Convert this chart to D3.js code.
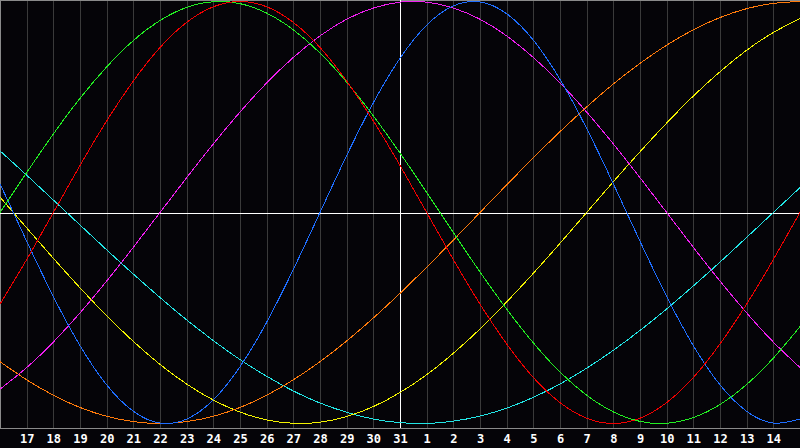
<!DOCTYPE html>
<html>
<head>
<meta charset="utf-8">
<script src="https://cdn.jsdelivr.net/npm/d3@7"></script>
<style>
    body { margin: 0; background: #050408; }
    svg { display: block; }
    .day-axis text { fill: #ffffff; font-family: "DejaVu Sans Mono", monospace; font-weight: bold; font-size: 12px; }
    .curve { fill: none; stroke-width: 1; shape-rendering: crispEdges; }
</style>
</head>
<body>
<div id="chart"></div>
<script>
// days shown, one per grid column (16th .. 15th of next month)
const days = [16, 17, 18, 19, 20, 21, 22, 23, 24, 25, 26, 27, 28, 29, 30, 31,
              1, 2, 3, 4, 5, 6, 7, 8, 9, 10, 11, 12, 13, 14, 15];
const todayIndex = 15;

// cycle values, one per day
const physical     = [0.136, -0.136, -0.398, -0.631, -0.817, -0.942, -0.998, -0.979, -0.888, -0.731, -0.520, -0.270, 0, 0.270, 0.520, 0.731, 0.888, 0.979, 0.998, 0.942, 0.817, 0.631, 0.398, 0.136, -0.136, -0.398, -0.631, -0.817, -0.942, -0.998, -0.979];
const emotional    = [-0.434, -0.223, 0, 0.223, 0.434, 0.623, 0.782, 0.901, 0.975, 1, 0.975, 0.901, 0.782, 0.623, 0.434, 0.223, 0, -0.223, -0.434, -0.623, -0.782, -0.901, -0.975, -1, -0.975, -0.901, -0.782, -0.623, -0.434, -0.223, 0];
const intellectual = [0, 0.189, 0.372, 0.541, 0.690, 0.815, 0.910, 0.972, 0.999, 0.990, 0.945, 0.866, 0.756, 0.618, 0.458, 0.282, 0.095, -0.095, -0.282, -0.458, -0.618, -0.756, -0.866, -0.945, -0.990, -0.999, -0.972, -0.910, -0.815, -0.690, -0.541];
const intuitive    = [-0.837, -0.735, -0.614, -0.476, -0.325, -0.165, 0, 0.165, 0.325, 0.476, 0.614, 0.735, 0.837, 0.916, 0.969, 0.997, 0.997, 0.969, 0.916, 0.837, 0.735, 0.614, 0.476, 0.325, 0.165, 0, -0.165, -0.325, -0.476, -0.614, -0.735];
const aesthetic    = [0.073, -0.073, -0.217, -0.357, -0.489, -0.611, -0.720, -0.813, -0.889, -0.946, -0.983, -0.999, -0.994, -0.967, -0.920, -0.853, -0.769, -0.667, -0.552, -0.424, -0.288, -0.146, 0, 0.146, 0.288, 0.424, 0.552, 0.667, 0.769, 0.853, 0.920];
const awareness    = [-0.707, -0.793, -0.866, -0.924, -0.966, -0.991, -1, -0.991, -0.966, -0.924, -0.866, -0.793, -0.707, -0.609, -0.5, -0.383, -0.259, -0.131, 0, 0.131, 0.259, 0.383, 0.5, 0.609, 0.707, 0.793, 0.866, 0.924, 0.966, 0.991, 1];
const spiritual    = [0.292, 0.177, 0.059, -0.059, -0.177, -0.292, -0.403, -0.509, -0.607, -0.697, -0.776, -0.846, -0.903, -0.947, -0.979, -0.996, -1, -0.989, -0.965, -0.927, -0.876, -0.813, -0.738, -0.653, -0.559, -0.457, -0.348, -0.235, -0.118, 0, 0.118];

const seriesNames  = ["spiritual", "aesthetic", "awareness", "intuitive", "physical", "intellectual", "emotional"];
const seriesValues = [spiritual, aesthetic, awareness, intuitive, physical, intellectual, emotional];
const seriesColors = ["#22e6e6", "#f2f200", "#ff7a0a", "#f01ef0", "#1e6eff", "#22ee22", "#f00000"];

class BioVis {
    constructor(parentElement) {
        this.parentElement = parentElement;
        this.initVis();
    }

    initVis() {
        let vis = this;

        vis.width = 800;
        vis.height = 448;
        vis.plotBottom = 428;

        vis.svg = d3.select("#" + vis.parentElement).append("svg")
            .attr("width", vis.width)
            .attr("height", vis.height);

        vis.svg.append("rect")
            .attr("width", vis.width)
            .attr("height", vis.height)
            .attr("fill", "#050408");

        // Scales
        vis.x = d3.scaleLinear()
            .domain([0, days.length - 1])
            .range([0, vis.width]);

        vis.y = d3.scaleLinear()
            .domain([-1, 1])
            .range([423.5, 1.5]);

        vis.updateVis();
    }

    updateVis() {
        let vis = this;
        let gridIdx = d3.range(1, days.length - 1);

        // day grid
        vis.svg.append("g")
            .selectAll("line")
            .data(gridIdx)
            .join("line")
            .attr("x1", d => Math.round(vis.x(d)) + 0.5)
            .attr("x2", d => Math.round(vis.x(d)) + 0.5)
            .attr("y1", 0)
            .attr("y2", vis.plotBottom)
            .attr("stroke", "#3a3a3a");

        // borders
        vis.svg.append("line")
            .attr("x1", 0).attr("x2", vis.width)
            .attr("y1", 0.5).attr("y2", 0.5)
            .attr("stroke", "#8a8a8a");
        vis.svg.append("line")
            .attr("x1", 0.5).attr("x2", 0.5)
            .attr("y1", 0).attr("y2", vis.plotBottom)
            .attr("stroke", "#8a8a8a");

        // today + zero lines
        vis.svg.append("line")
            .attr("x1", Math.round(vis.x(todayIndex)) + 0.5)
            .attr("x2", Math.round(vis.x(todayIndex)) + 0.5)
            .attr("y1", 0)
            .attr("y2", vis.plotBottom)
            .attr("stroke", "#ffffff");
        vis.svg.append("line")
            .attr("x1", 0).attr("x2", vis.width)
            .attr("y1", Math.round(vis.y(0)) + 0.5)
            .attr("y2", Math.round(vis.y(0)) + 0.5)
            .attr("stroke", "#ffffff");

        // curves
        let line = d3.line()
            .curve(d3.curveNatural)
            .x((d, i) => vis.x(i))
            .y(d => vis.y(d));

        vis.svg.append("g")
            .selectAll("path")
            .data(seriesValues)
            .join("path")
            .attr("class", (d, i) => "curve " + seriesNames[i])
            .attr("stroke", (d, i) => seriesColors[i])
            .attr("d", line);

        // bottom axis with day labels
        let xAxis = d3.axisBottom(vis.x)
            .tickValues(gridIdx)
            .tickFormat(i => days[i])
            .tickSize(0)
            .tickPadding(6);

        let axisG = vis.svg.append("g")
            .attr("class", "day-axis")
            .attr("transform", `translate(0,${vis.plotBottom})`)
            .call(xAxis);
        axisG.select(".domain").remove();

        vis.svg.append("line")
            .attr("x1", 0).attr("x2", vis.width)
            .attr("y1", vis.plotBottom + 0.5).attr("y2", vis.plotBottom + 0.5)
            .attr("stroke", "#8a8a8a");
    }
}

new BioVis("chart");
</script>
</body>
</html>
